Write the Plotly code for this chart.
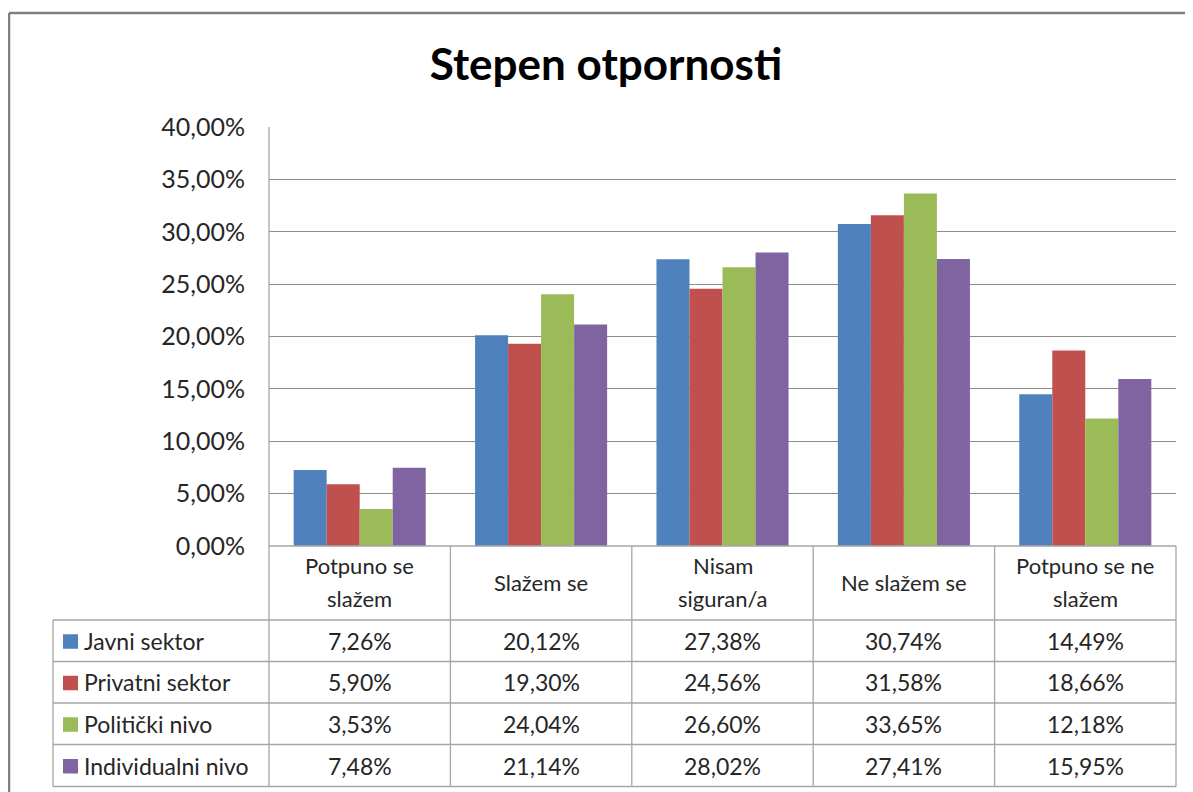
import plotly.graph_objects as go

categories = ["Potpuno se slažem", "Slažem se", "Nisam siguran/a", "Ne slažem se", "Potpuno se ne slažem"]
category_lines = [["Potpuno se", "slažem"], ["Slažem se"], ["Nisam", "siguran/a"], ["Ne slažem se"], ["Potpuno se ne", "slažem"]]
series_names = ["Javni sektor", "Privatni sektor", "Politički nivo", "Individualni nivo"]
javni = [7.26, 20.12, 27.38, 30.74, 14.49]
privatni = [5.90, 19.30, 24.56, 31.58, 18.66]
politicki = [3.53, 24.04, 26.60, 33.65, 12.18]
individualni = [7.48, 21.14, 28.02, 27.41, 15.95]
y_ticks = [0, 5, 10, 15, 20, 25, 30, 35, 40]
y_tick_labels = ["0,00%", "5,00%", "10,00%", "15,00%", "20,00%", "25,00%", "30,00%", "35,00%", "40,00%"]

series_values = [javni, privatni, politicki, individualni]
colors = ["#4F81BD", "#C0504D", "#9BBB59", "#8064A2"]

# page body has an 8px margin; all layout numbers below are screen pixels
OFF = 8
W, H = 1193 - OFF, 792 - OFF
PL, PR, PT, PB = 269, 1176, 127, 546
FONT = "Lato"
TXT = "#262626"
LINE = "#A6A6A6"

def px(x):
    return (x - PL) / (PR - PL)

def py(y):
    return (PB - y) / (PB - PT)

fig = go.Figure()
for name, vals, col in zip(series_names, series_values, colors):
    fig.add_trace(go.Bar(x=categories, y=vals, name=name, marker=dict(color=col, line=dict(width=0)),
                         hovertemplate="%{x}: %{y:.2f}%<extra>" + name + "</extra>"))

shapes = []
annotations = []

# outer chart border
shapes.append(dict(type="line", xref="paper", yref="paper", x0=px(9), x1=px(1200), y0=py(13), y1=py(13),
                   line=dict(color="#808080", width=2.5)))
shapes.append(dict(type="line", xref="paper", yref="paper", x0=px(9), x1=px(9), y0=py(13), y1=py(800),
                   line=dict(color="#808080", width=2.5)))

# table geometry
col_w = (PR - PL) / len(categories)
col_x = [PL + i * col_w for i in range(len(categories) + 1)]
row_y = [620, 661.5, 703, 744.5, 786.5]
TL = 53

shapes.append(dict(type="line", xref="paper", yref="paper", x0=px(PL), x1=px(PR), y0=py(PB), y1=py(PB),
                   line=dict(color=LINE, width=1.3)))
for y in row_y:
    shapes.append(dict(type="line", xref="paper", yref="paper", x0=px(TL), x1=px(PR), y0=py(y), y1=py(y),
                       line=dict(color=LINE, width=1.3)))
shapes.append(dict(type="line", xref="paper", yref="paper", x0=px(TL), x1=px(TL), y0=py(row_y[0]), y1=py(row_y[-1]),
                   line=dict(color=LINE, width=1.3)))
shapes.append(dict(type="line", xref="paper", yref="paper", x0=px(PL), x1=px(PL), y0=py(PT), y1=py(row_y[-1]),
                   line=dict(color=LINE, width=1.3)))
for x in col_x[1:]:
    shapes.append(dict(type="line", xref="paper", yref="paper", x0=px(x), x1=px(x), y0=py(PB), y1=py(row_y[-1]),
                       line=dict(color=LINE, width=1.3)))

# category headers
for i, lines in enumerate(category_lines):
    xc = px((col_x[i] + col_x[i + 1]) / 2)
    if len(lines) == 1:
        ys = [582]
    else:
        ys = [565, 598]
    for txt, yy in zip(lines, ys):
        annotations.append(dict(xref="paper", yref="paper", x=xc, y=py(yy), text=txt, showarrow=False,
                                font=dict(family=FONT, size=22, color=TXT), xanchor="center", yanchor="middle"))

# series rows
for r, (name, vals, col) in enumerate(zip(series_names, series_values, colors)):
    yc = (row_y[r] + row_y[r + 1]) / 2
    shapes.append(dict(type="rect", xref="paper", yref="paper", x0=px(63), x1=px(78), y0=py(yc - 6.5), y1=py(yc + 8),
                       fillcolor=col, line=dict(width=0)))
    annotations.append(dict(xref="paper", yref="paper", x=px(82), y=py(yc), text=name, showarrow=False,
                            font=dict(family=FONT, size=23, color=TXT), xanchor="left", yanchor="middle"))
    for i, v in enumerate(vals):
        annotations.append(dict(xref="paper", yref="paper", x=px((col_x[i] + col_x[i + 1]) / 2), y=py(yc),
                                text=f"{v:.2f}%".replace(".", ","), showarrow=False,
                                font=dict(family=FONT, size=23, color=TXT), xanchor="center", yanchor="middle"))

fig.update_layout(
    width=W, height=H,
    margin=dict(l=PL - OFF, r=W - (PR - OFF), t=PT - OFF, b=H - (PB - OFF), pad=0),
    paper_bgcolor="white", plot_bgcolor="white",
    title=dict(text="<b>Stepen otpornosti</b>", x=px(606), xref="paper", xanchor="center",
               y=1 - (65 - OFF) / H, yanchor="middle", font=dict(family=FONT, size=44, color="black")),
    barmode="group", bargap=0.272, bargroupgap=0,
    showlegend=False,
    shapes=shapes, annotations=annotations,
    xaxis=dict(showticklabels=False, showgrid=False, zeroline=False, showline=False,
               range=[-0.5, 4.5], ticks=""),
    yaxis=dict(range=[0, 40], tickvals=y_ticks, ticktext=y_tick_labels, showgrid=True, gridcolor="#8C8C8C",
               gridwidth=1, zeroline=False, showline=False, ticks="", ticklabelstandoff=23,
               tickfont=dict(family=FONT, size=25, color=TXT)),
)

fig.write_html("out.html")
